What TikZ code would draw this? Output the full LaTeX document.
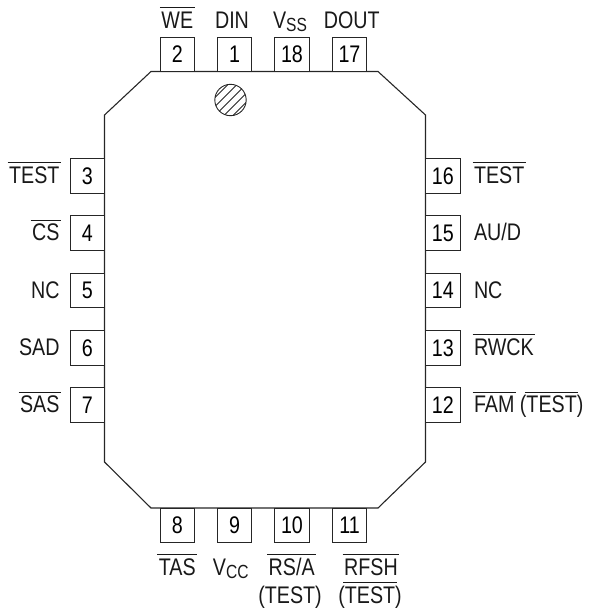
\documentclass[tikz,border=0pt]{standalone}
\usepackage{fontspec}
\setmainfont[FakeStretch=0.82]{Liberation Sans}
\newcommand{\ol}[1]{\sbox0{#1}\leavevmode\rlap{\kern-1.5pt\rule[20pt]{\dimexpr\wd0+3pt\relax}{0.9pt}}\box0 }
\newcommand{\sbs}[2]{#1\raisebox{-3.5pt}{\fontsize{19}{22}\selectfont #2}}
\tikzset{
  every node/.style={font=\fontsize{24}{28}\selectfont, inner sep=0pt, outer sep=0pt},
  pinbox/.style={draw=black!85, line width=1pt, minimum width=34.5pt, minimum height=34.5pt, fill=white},
  lbl/.style={anchor=base, text=black!90},
  lbll/.style={anchor=base east, text=black!90},
  lblr/.style={anchor=base west, text=black!90},
  body/.style={draw=black!85, line width=1.1pt}
}
\begin{document}
\begin{tikzpicture}[x=1pt,y=-1pt]
\useasboundingbox (0,0) rectangle (589,611);
% package outline
\draw[body] (151,71.5) -- (378,71.5) -- (425.5,115) -- (425.5,462) -- (378,508) -- (151,508) -- (104.5,462) -- (104.5,115) -- cycle;
% index mark
\begin{scope}
\clip (230.5,100) circle (15.7);
\foreach \d in {-27,-18,...,27}
  \draw[line width=0.8pt, black!85] (230.5+\d-20,100+20) -- (230.5+\d+20,100-20);
\end{scope}
\draw[line width=0.9pt, black!85] (230.5,100) circle (15.7);
% top pins
\node[pinbox] (p2) at (177.3,54.5) {2};
\node[pinbox] (p1) at (234.7,54.5) {1};
\node[pinbox] (p18) at (292,54.5) {18};
\node[pinbox] (p17) at (349.5,54.5) {17};
% left pins
\node[pinbox] (p3) at (87.3,175.8) {3};
\node[pinbox] (p4) at (87.3,233) {4};
\node[pinbox] (p5) at (87.3,290.5) {5};
\node[pinbox] (p6) at (87.3,347.8) {6};
\node[pinbox] (p7) at (87.3,405.2) {7};
% right pins
\node[pinbox] (p16) at (442.8,175.8) {16};
\node[pinbox] (p15) at (442.8,233) {15};
\node[pinbox] (p14) at (442.8,290.5) {14};
\node[pinbox] (p13) at (442.8,347.8) {13};
\node[pinbox] (p12) at (442.8,405.2) {12};
% bottom pins
\node[pinbox] (p8) at (177.3,525.5) {8};
\node[pinbox] (p9) at (234.7,525.5) {9};
\node[pinbox] (p10) at (292,525.5) {10};
\node[pinbox] (p11) at (349.5,525.5) {11};
% top labels
\node[lbl] (lWE) at (177.3,28) {\ol{WE}};
\node[lbl] (lDIN) at (232,28) {DIN};
\node[lbl] (lVSS) at (290,28) {\sbs{V}{SS}};
\node[lbl] (lDOUT) at (351.7,28) {DOUT};
% left labels
\node[lbll] (lT3) at (59.5,183) {\ol{TEST}};
\node[lbll] (lCS) at (59.5,240.5) {\ol{CS}};
\node[lbll] (lNC5) at (59.5,298) {NC};
\node[lbll] (lSAD) at (59.5,355.3) {SAD};
\node[lbll] (lSAS) at (59.5,412.7) {\ol{SAS}};
% right labels
\node[lblr] (lT16) at (474,183) {\ol{TEST}};
\node[lblr] (lAU) at (474,240.5) {AU/D};
\node[lblr] (lNC14) at (474,298) {NC};
\node[lblr] (lRW) at (474,355.3) {\ol{RWCK}};
\node[lblr] (lFAM) at (474,412.7) {\ol{FAM} (\ol{TEST})};
% bottom labels
\node[lbl] (lTAS) at (177.3,575) {\ol{TAS}};
\node[lbl] (lVCC) at (230.7,575) {\sbs{V}{CC}};
\node[lbl] (lRS) at (291.7,575) {\ol{RS/A}};
\node[lbl] (lRT) at (290,603) {(TEST)};
\node[lbl] (lRF) at (371,575) {\ol{RFSH}};
\node[lbl] (lRFT) at (370,603) {(\ol{TEST})};
\end{tikzpicture}
\end{document}
